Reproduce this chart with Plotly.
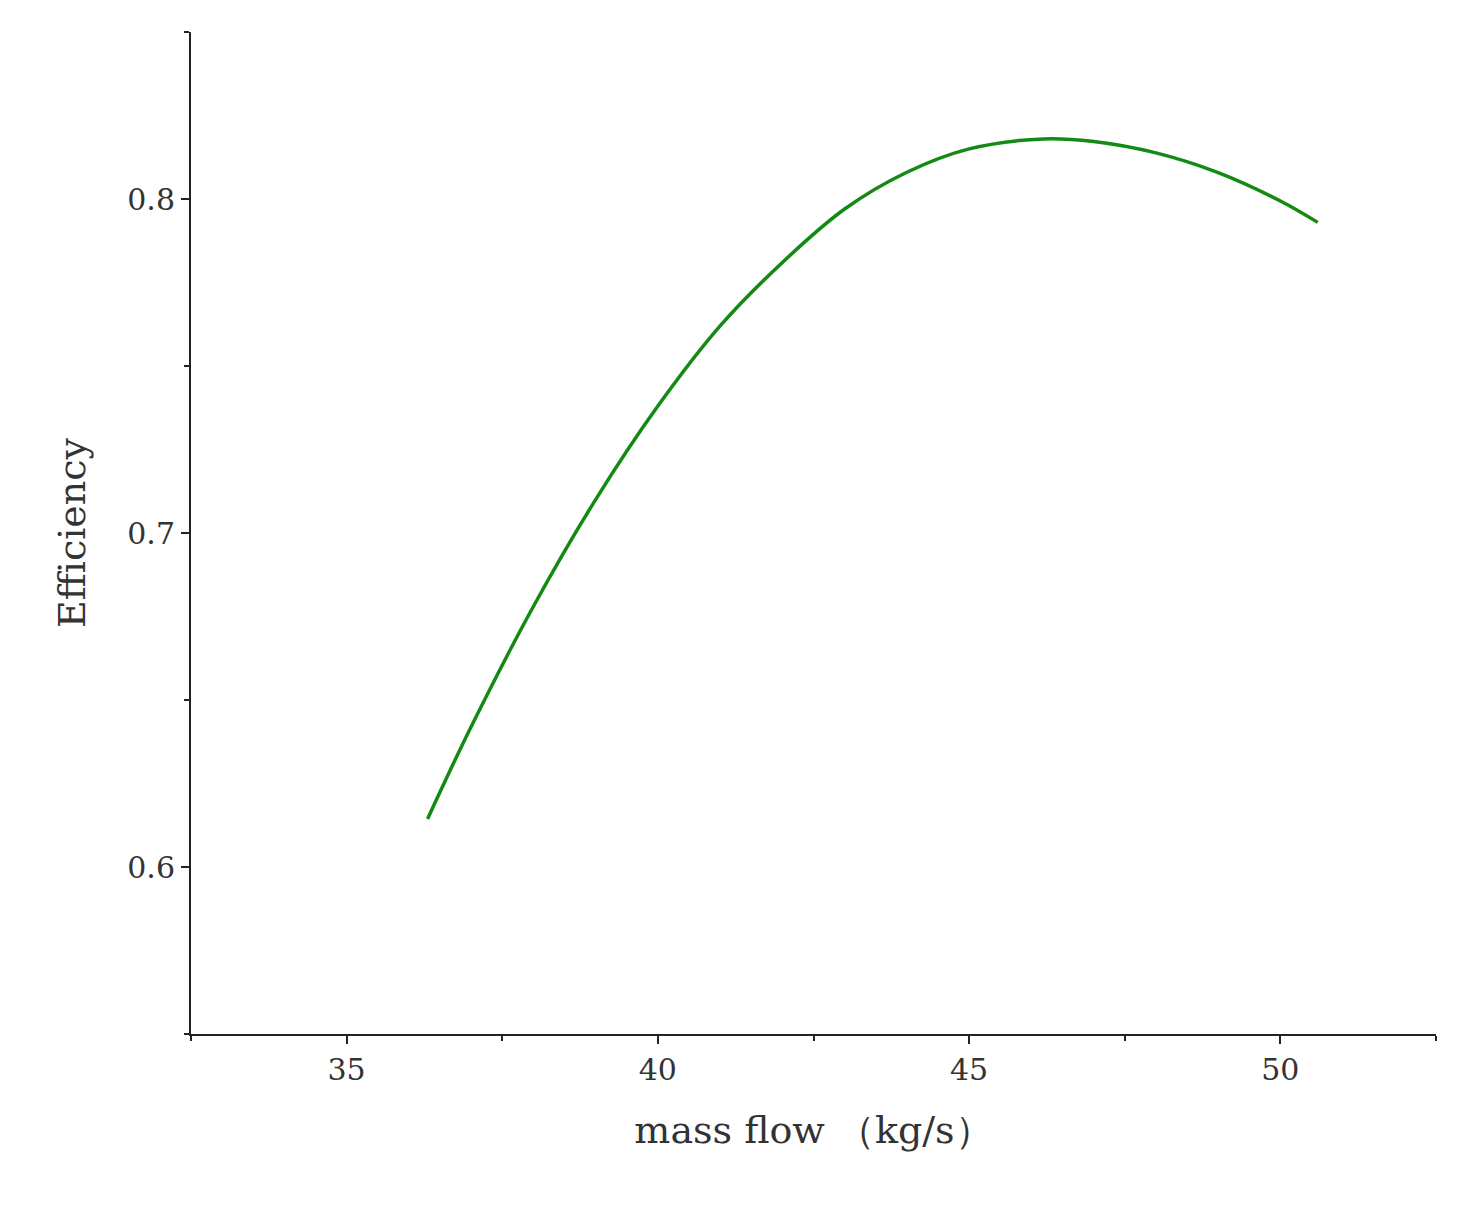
import plotly.graph_objects as go

mass_flow = [36.3, 37.0, 38.0, 39.0, 40.0, 41.0, 42.0, 43.0, 44.0, 45.0, 46.2, 47.0, 48.0, 49.0, 50.0, 50.6]
efficiency = [0.6144, 0.642, 0.678, 0.710, 0.738, 0.762, 0.781, 0.797, 0.808, 0.815, 0.818, 0.8172, 0.8138, 0.8079, 0.7994, 0.793]

fig = go.Figure(go.Scatter(x=mass_flow, y=efficiency, mode="lines",
                           line=dict(color="#138a13", width=3.5, shape="spline", smoothing=1.0)))

font = dict(family="DejaVu Serif", size=30, color="#333")
axis_common = dict(showline=True, linecolor="#222", linewidth=2, ticks="outside", ticklen=8, tickwidth=2,
                   tickcolor="#222", showgrid=False, zeroline=False, tickfont=font,
                   minor=dict(ticks="outside", ticklen=5, tickwidth=1.5, tickcolor="#222"))
fig.update_xaxes(range=[32.5, 52.5], tick0=35, dtick=5, minor_dtick=2.5,
                 title=dict(text="mass flow （kg/s）", font=dict(family="DejaVu Serif", size=38, color="#333"), standoff=30),
                 **axis_common)
fig.update_yaxes(range=[0.55, 0.85], tick0=0.6, dtick=0.1, minor_dtick=0.05, tickformat=".1f",
                 title=dict(text="Efficiency", font=dict(family="DejaVu Serif", size=38, color="#333"), standoff=30),
                 **axis_common)
fig.update_layout(width=1470, height=1220, plot_bgcolor="white", paper_bgcolor="white",
                  margin=dict(l=183, r=42, t=24, b=194), showlegend=False)
fig.write_html("out.html")
